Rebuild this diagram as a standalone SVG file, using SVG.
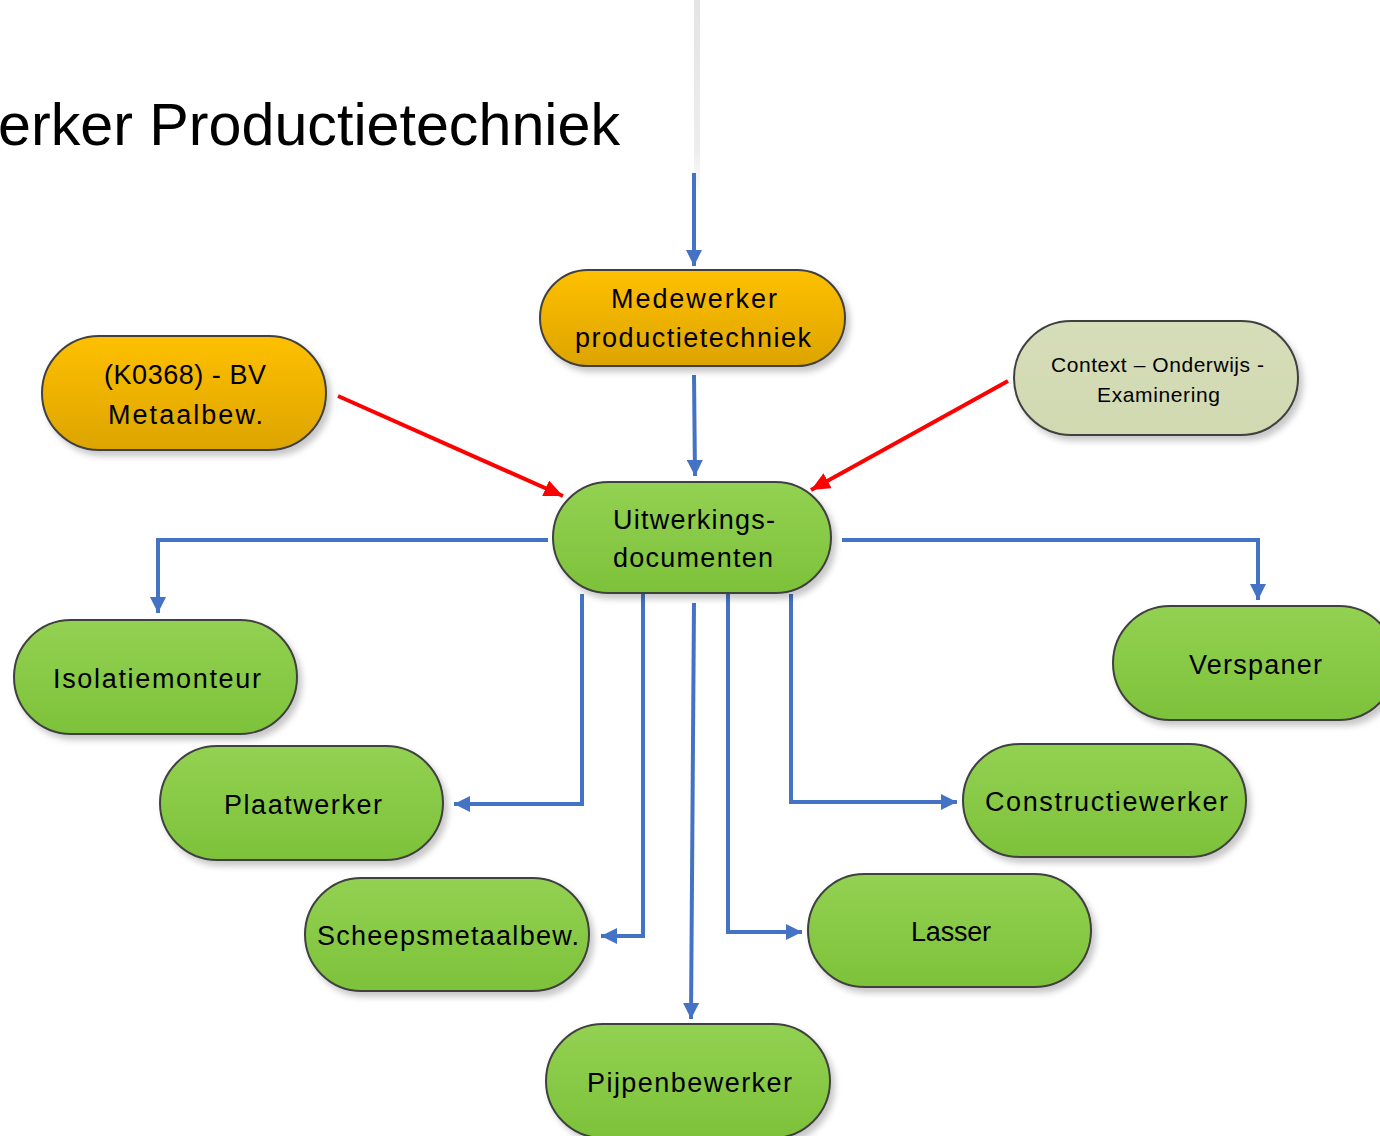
<svg xmlns="http://www.w3.org/2000/svg" width="1380" height="1136" viewBox="0 0 1380 1136">
<defs>
  <linearGradient id="gGold" x1="0" y1="0" x2="0" y2="1">
    <stop offset="0" stop-color="#FFC000"/>
    <stop offset="1" stop-color="#DCA400"/>
  </linearGradient>
  <linearGradient id="gGreen" x1="0" y1="0" x2="0" y2="1">
    <stop offset="0" stop-color="#93D152"/>
    <stop offset="1" stop-color="#7DC23A"/>
  </linearGradient>
  <linearGradient id="gSage" x1="0" y1="0" x2="0" y2="1">
    <stop offset="0" stop-color="#D6DDB9"/>
    <stop offset="1" stop-color="#D1D9B1"/>
  </linearGradient>
  <linearGradient id="gEdge" x1="0" y1="0" x2="0" y2="1">
    <stop offset="0" stop-color="#E4E4E4"/>
    <stop offset="0.75" stop-color="#EDEDED"/>
    <stop offset="1" stop-color="#FFFFFF"/>
  </linearGradient>
  <filter id="shadow" x="-10%" y="-10%" width="125%" height="135%">
    <feDropShadow dx="4" dy="5" stdDeviation="3" flood-color="#000" flood-opacity="0.22"/>
  </filter>
  <marker id="blueArrow" markerUnits="userSpaceOnUse" viewBox="0 0 16 16" markerWidth="16" markerHeight="16" refX="16" refY="8" orient="auto">
    <path d="M0,0 L16,8 L0,16 z" fill="#4472C4"/>
  </marker>
  <marker id="redArrow" markerUnits="userSpaceOnUse" viewBox="0 0 19 17" markerWidth="19" markerHeight="17" refX="19" refY="8.5" orient="auto">
    <path d="M0,0 L19,8.5 L0,17 z" fill="#FF0000"/>
  </marker>
</defs>
<style>
  .node { stroke: #404040; stroke-width: 2; filter: url(#shadow); }
  .gold { fill: url(#gGold); }
  .green { fill: url(#gGreen); }
  .sage { fill: url(#gSage); }
  .lbl { font-family: "Liberation Sans", Arial, sans-serif; fill: #000; text-anchor: middle; }
  .big { font-size: 27px; }
  .mid { font-size: 27px; }
  .small { font-size: 21px; }
  .blue { fill: none; stroke: #4472C4; stroke-width: 4; marker-end: url(#blueArrow); }
  .red { fill: none; stroke: #FF0000; stroke-width: 4; marker-end: url(#redArrow); }
</style>
<rect width="1380" height="1136" fill="#FFFFFF"/>
<rect x="694" y="0" width="6" height="200" fill="url(#gEdge)"/>
<text x="620" y="145" font-family="&quot;Liberation Sans&quot;, Arial, sans-serif" font-size="59" text-anchor="end" fill="#000" textLength="622" lengthAdjust="spacingAndGlyphs">erker Productietechniek</text>

<g id="connectors">
  <path class="blue" d="M694,173 V266"/>
  <path class="blue" d="M694,375 L695,476"/>
  <path class="red" d="M338,396 L563,496"/>
  <path class="red" d="M1008,381 L811,490"/>
  <path class="blue" d="M548,540 H158 V613"/>
  <path class="blue" d="M842,540 H1258 V600"/>
  <path class="blue" d="M582,594 V804 H454"/>
  <path class="blue" d="M643,594 V936 H601"/>
  <path class="blue" d="M694,603 L691,1019"/>
  <path class="blue" d="M728,594 V932 H802"/>
  <path class="blue" d="M791,594 V802 H957"/>
</g>

<g id="medewerker">
  <rect class="node gold" x="540" y="270" width="305" height="96" rx="48"/>
  <text class="lbl mid" x="694" y="308" textLength="166" lengthAdjust="spacing">Medewerker</text>
  <text class="lbl mid" x="693" y="347" textLength="236" lengthAdjust="spacing">productietechniek</text>
</g>
<g id="k0368">
  <rect class="node gold" x="42" y="336" width="284" height="114" rx="57"/>
  <text class="lbl mid" x="185" y="384" textLength="162" lengthAdjust="spacing">(K0368) - BV</text>
  <text class="lbl mid" x="185.5" y="424" textLength="155" lengthAdjust="spacing">Metaalbew.</text>
</g>
<g id="context">
  <rect class="node sage" x="1014" y="321" width="284" height="114" rx="57"/>
  <text class="lbl small" x="1157.5" y="372" textLength="213" lengthAdjust="spacing">Context – Onderwijs -</text>
  <text class="lbl small" x="1158.5" y="402" textLength="123" lengthAdjust="spacing">Examinering</text>
</g>
<g id="uitwerkings">
  <rect class="node green" x="553" y="482" width="278" height="111" rx="55.5"/>
  <text class="lbl mid" x="694" y="529" textLength="162" lengthAdjust="spacing">Uitwerkings-</text>
  <text class="lbl mid" x="693" y="567" textLength="160" lengthAdjust="spacing">documenten</text>
</g>
<g id="isolatiemonteur">
  <rect class="node green" x="14" y="620" width="283" height="114" rx="57"/>
  <text class="lbl big" x="157" y="688" textLength="208" lengthAdjust="spacing">Isolatiemonteur</text>
</g>
<g id="verspaner">
  <rect class="node green" x="1113" y="606" width="283" height="114" rx="57"/>
  <text class="lbl big" x="1255.5" y="674" textLength="133" lengthAdjust="spacing">Verspaner</text>
</g>
<g id="plaatwerker">
  <rect class="node green" x="160" y="746" width="283" height="114" rx="57"/>
  <text class="lbl big" x="303" y="814" textLength="158" lengthAdjust="spacing">Plaatwerker</text>
</g>
<g id="constructiewerker">
  <rect class="node green" x="963" y="744" width="283" height="113" rx="56.5"/>
  <text class="lbl big" x="1106.5" y="811" textLength="243" lengthAdjust="spacing">Constructiewerker</text>
</g>
<g id="scheepsmetaalbew">
  <rect class="node green" x="305" y="878" width="284" height="113" rx="56.5"/>
  <text class="lbl big" x="448" y="945" textLength="262" lengthAdjust="spacing">Scheepsmetaalbew.</text>
</g>
<g id="lasser">
  <rect class="node green" x="808" y="874" width="283" height="113" rx="56.5"/>
  <text class="lbl big" x="951" y="941" textLength="80" lengthAdjust="spacing">Lasser</text>
</g>
<g id="pijpenbewerker">
  <rect class="node green" x="546" y="1024" width="284" height="114" rx="57"/>
  <text class="lbl big" x="689.5" y="1092" textLength="205" lengthAdjust="spacing">Pijpenbewerker</text>
</g>
</svg>
